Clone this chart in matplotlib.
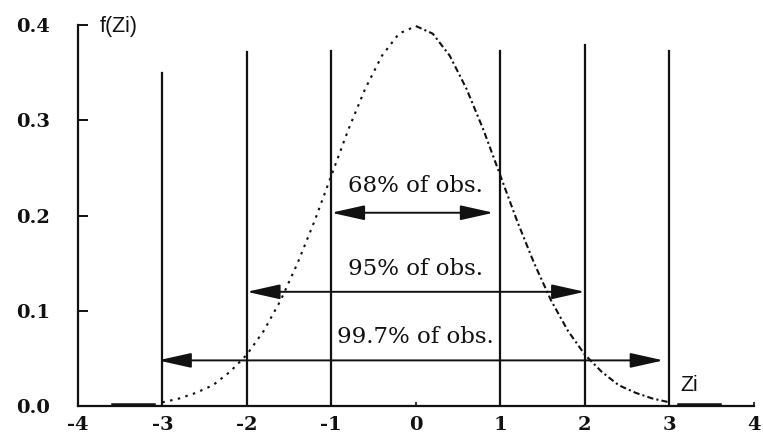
import matplotlib
matplotlib.use("Agg")
import matplotlib.pyplot as plt

# Standard normal density read at steps of 0.2
z_vals = [-3.0, -2.8, -2.6, -2.4, -2.2, -2.0, -1.8, -1.6, -1.4, -1.2, -1.0,
          -0.8, -0.6, -0.4, -0.2, 0.0, 0.2, 0.4, 0.6, 0.8,
          1.0, 1.2, 1.4, 1.6, 1.8, 2.0, 2.2, 2.4, 2.6, 2.8, 3.0]
f_vals = [0.004, 0.008, 0.014, 0.022, 0.036, 0.054, 0.079, 0.111, 0.150, 0.194, 0.242,
          0.290, 0.333, 0.368, 0.391, 0.399, 0.391, 0.368, 0.333, 0.290,
          0.242, 0.194, 0.150, 0.111, 0.079, 0.054, 0.036, 0.022, 0.014, 0.008, 0.004]

# Vertical marker lines at +-1, +-2, +-3 standard deviations
marker_z = [-3, -2, -1, 1, 2, 3]
marker_top = [0.35, 0.372, 0.373, 0.373, 0.379, 0.373]

# Coverage arrows: (label, left end, right end, arrow height, label height)
spans = [("68% of obs.", -1.0, 0.92, 0.203, 0.231),
         ("95% of obs.", -2.0, 2.0, 0.120, 0.144),
         ("99.7% of obs.", -3.05, 2.93, 0.048, 0.073)]

x_ticks = [-4, -3, -2, -1, 0, 1, 2, 3, 4]
y_ticks = [0.0, 0.1, 0.2, 0.3, 0.4]

fig = plt.figure(figsize=(7.63, 4.40), dpi=100)
ax = fig.add_axes([0.102, 0.077, 0.886, 0.866])

ink = "#111111"

# density curve, dotted on the left half, dash-dot on the right half
mid = z_vals.index(0.0)
ax.plot(z_vals[:mid + 1], f_vals[:mid + 1], color=ink, lw=1.5, ls=(0, (1.2, 2.6)))
ax.plot(z_vals[mid:], f_vals[mid:], color=ink, lw=1.5, ls=(0, (3, 1.5, 1, 1.5)))
# flat tails along the baseline
ax.plot([-3.6, -3.1], [0.002, 0.002], color=ink, lw=1.8)
ax.plot([3.1, 3.6], [0.002, 0.002], color=ink, lw=1.8)

for zx, top in zip(marker_z, marker_top):
    ax.plot([zx, zx], [0, top], color=ink, lw=1.6)

for label, left, right, yh, ylab in spans:
    ax.annotate("", xy=(left, yh), xytext=(right, yh),
                arrowprops=dict(arrowstyle="<|-|>,head_length=1.7,head_width=0.38",
                                mutation_scale=12, color=ink, lw=1.4,
                                shrinkA=0, shrinkB=0))
    ax.text(0.0, ylab, label, ha="center", va="center",
            fontsize=16.5, family="DejaVu Serif", color=ink)

ax.text(-3.74, 0.399, "f(Zi)", ha="left", va="center", fontsize=15.5,
        family="Liberation Sans", color=ink)
ax.text(3.13, 0.022, "Zi", ha="left", va="center", fontsize=15.5,
        family="Liberation Sans", color=ink)

ax.set_xlim(-4, 4)
ax.set_ylim(0, 0.4)
ax.set_xticks(x_ticks)
ax.set_xticklabels([str(v) for v in x_ticks])
ax.set_yticks(y_ticks)
ax.set_yticklabels([f"{v:.1f}" for v in y_ticks])

for side in ("top", "right"):
    ax.spines[side].set_visible(False)
for side in ("left", "bottom"):
    ax.spines[side].set_linewidth(1.6)
    ax.spines[side].set_color(ink)

ax.tick_params(axis="y", direction="in", length=7, width=1.4, pad=20, colors=ink)
ax.tick_params(axis="x", direction="in", length=3, width=1.2, pad=7, colors=ink)
for lab in ax.get_xticklabels() + ax.get_yticklabels():
    lab.set_family("DejaVu Serif")
    lab.set_fontweight("bold")
    lab.set_fontsize(14)

fig.savefig("out.png", dpi=100, facecolor="white")
